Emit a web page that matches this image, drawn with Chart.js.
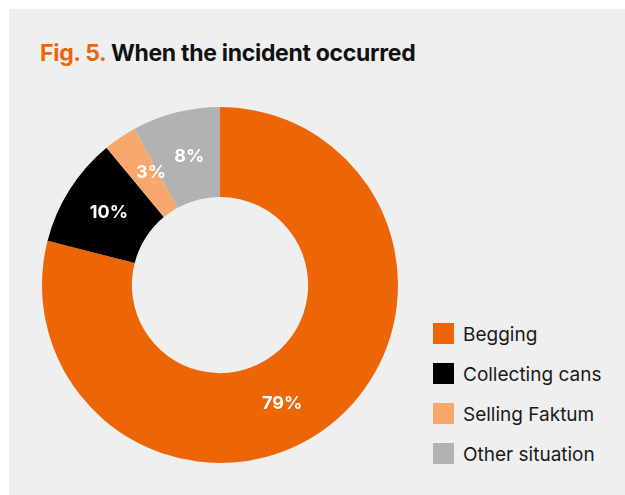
<!DOCTYPE html>
<html>
<head>
<meta charset="utf-8">
<script src="https://cdn.jsdelivr.net/npm/chart.js@4.4.1/dist/chart.umd.min.js"></script>
<style>
    html, body { margin: 0; padding: 0; background: #ffffff; }
    body { width: 625px; height: 495px; position: relative; overflow: hidden; font-family: Inter, Roboto, sans-serif; }
    .painel { position: absolute; left: 9px; top: 9px; right: 0; bottom: 0; background: #efefef; }
    .titulo { position: absolute; left: 40px; top: 39px; font-size: 23px; font-weight: 700; color: #111111; letter-spacing: -0.3px; white-space: nowrap; }
    .titulo span { color: #ec6608; }
    .grafico { position: absolute; left: 42px; top: 107px; width: 356px; height: 356px; }
    .legenda { position: absolute; left: 433px; top: 323px; }
    .legenda-item { display: flex; align-items: center; height: 21px; margin-bottom: 19px; font-size: 19px; color: #1a1a1a; white-space: nowrap; }
    .legenda-item span { position: relative; top: 1px; }
    .legenda-cor { width: 21px; height: 21px; margin-right: 9px; }
</style>
</head>
<body>
<div class="painel"></div>
<div class="titulo"><span>Fig. 5.</span> When the incident occurred</div>
<div class="grafico"><canvas id="graficoIncidente"></canvas></div>
<div class="legenda" id="legenda"></div>

<script>
const categorias = ['Begging', 'Collecting cans', 'Selling Faktum', 'Other situation'];
const percentuais = [79, 10, 3, 8];
const cores = ['#ec6608', '#000000', '#f8a86c', '#b2b2b2'];

// rótulos brancos de porcentagem dentro de cada fatia
const rotulosFatias = {
    id: 'rotulosFatias',
    afterDatasetsDraw(chart, args, opts) {
        const ctx = chart.ctx;
        const meta = chart.getDatasetMeta(0);
        ctx.save();
        ctx.fillStyle = '#ffffff';
        ctx.font = 'bold 18px Inter, sans-serif';
        ctx.textAlign = 'center';
        ctx.textBaseline = 'middle';
        meta.data.forEach((arc, i) => {
            const p = arc.getProps(['x', 'y', 'startAngle', 'endAngle', 'innerRadius', 'outerRadius'], true);
            const desvio = (opts.desvioAngulo[i] || 0) * Math.PI / 180;
            const ang = (p.startAngle + p.endAngle) / 2 + desvio;
            const r = (p.innerRadius + p.outerRadius) / 2;
            ctx.fillText(percentuais[i] + '%', p.x + Math.cos(ang) * r, p.y + Math.sin(ang) * r + 1);
        });
        ctx.restore();
    }
};

new Chart(document.getElementById('graficoIncidente'), {
    type: 'doughnut',
    data: {
        labels: categorias,
        datasets: [{
            data: percentuais,
            backgroundColor: cores,
            borderWidth: 0,
            hoverOffset: 0
        }]
    },
    options: {
        responsive: true,
        maintainAspectRatio: false,
        animation: false,
        cutout: '49.5%',
        layout: { padding: 0 },
        plugins: {
            legend: { display: false },
            tooltip: { enabled: false },
            rotulosFatias: { desvioAngulo: [10, 1, 3, 1] }
        }
    },
    plugins: [rotulosFatias]
});

function montarLegenda() {
    const el = document.getElementById('legenda');
    categorias.forEach((nome, i) => {
        const item = document.createElement('div');
        item.className = 'legenda-item';
        item.innerHTML = `<div class="legenda-cor" style="background:${cores[i]}"></div><span>${nome}</span>`;
        el.appendChild(item);
    });
}
montarLegenda();
</script>
</body>
</html>
